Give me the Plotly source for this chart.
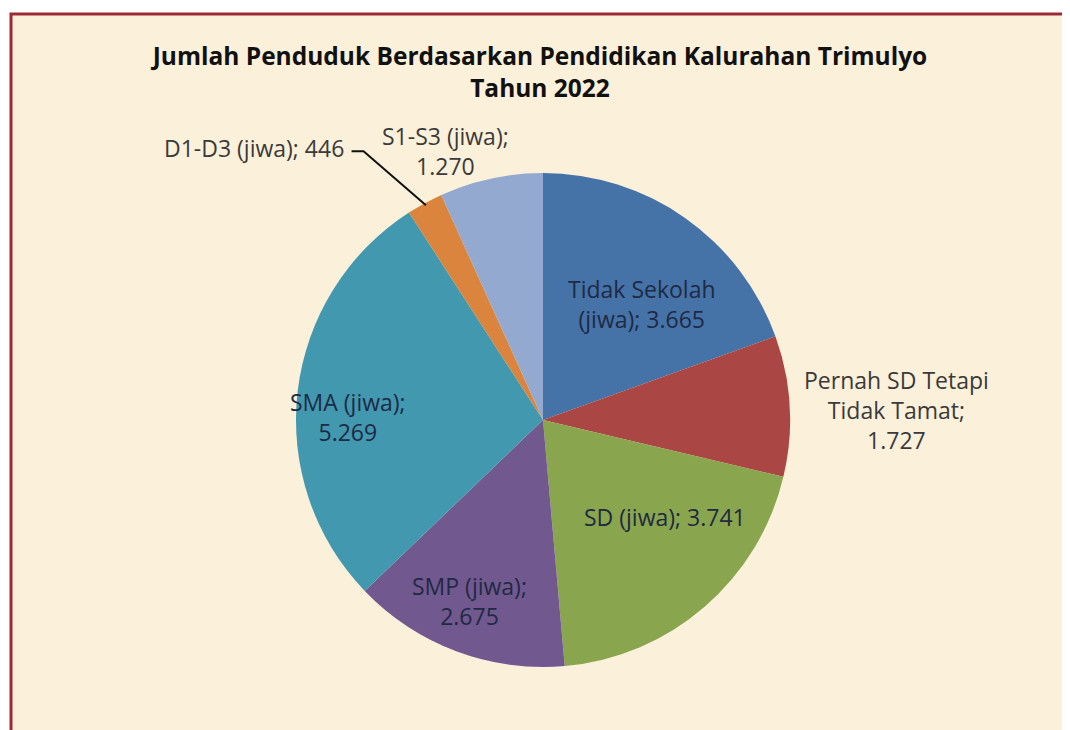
import math
import plotly.graph_objects as go

# ---- data ----
categories = ["Tidak Sekolah (jiwa)", "Pernah SD Tetapi Tidak Tamat", "SD (jiwa)",
              "SMP (jiwa)", "SMA (jiwa)", "D1-D3 (jiwa)", "S1-S3 (jiwa)"]
values = [3665, 1727, 3741, 2675, 5269, 446, 1270]
label_texts = ["Tidak Sekolah<br>(jiwa); 3.665", "Pernah SD Tetapi<br>Tidak Tamat;<br>1.727",
               "SD (jiwa); 3.741", "SMP (jiwa);<br>2.675", "SMA (jiwa);<br>5.269",
               "D1-D3 (jiwa); 446", "S1-S3 (jiwa);<br>1.270"]
colors = ["#4572A7", "#AA4643", "#89A54E", "#71588F", "#4198AF", "#DB843D", "#93A9CF"]
title = "Jumlah Penduduk Berdasarkan Pendidikan Kalurahan Trimulyo<br>Tahun 2022"

# ---- layout / style ----
OFF = 8                      # page body margin
W, H = 1070 - OFF, 730 - OFF
CX, CY, R = 543 - OFF, 420 - OFF, 247      # pie centre / radius in pixels (figure coords)
# label placement (angle clockwise from 12 o'clock, radius fraction), anchor
label_pos = [(40.5, 0.62, "center"), (88.4, 1.43, "center"), (128.5, 0.63, "center"),
             (202, 0.79, "center"), (271, 0.79, "center"), (324, 1.36, "right"),
             (340, 1.16, "center")]
inside = [True, False, True, True, True, False, False]

fig = go.Figure()
fig.add_trace(go.Pie(
    labels=categories, values=values, sort=False, direction="clockwise", rotation=0,
    marker=dict(colors=colors, line=dict(width=0)), textinfo="none",
    showlegend=False,
    domain=dict(x=[(CX - R) / W, (CX + R) / W], y=[(H - CY - R) / H, (H - CY + R) / H]),
))

def px_to_paper(x, y):
    return x / W, (H - y) / H

annotations = []
for txt, (ang, rf, anchor), ins in zip(label_texts, label_pos, inside):
    a = math.radians(ang)
    x = CX + rf * R * math.sin(a)
    y = CY - rf * R * math.cos(a)
    px, py = px_to_paper(x, y)
    annotations.append(dict(
        x=px, y=py, xref="paper", yref="paper", text=txt, showarrow=False,
        xanchor=anchor, yanchor="middle", align="center",
        font=dict(family="Open Sans", size=23, color="#1F2A44" if ins else "#3A3A3A"),
    ))

# leader line for D1-D3 from label end to slice mid-angle edge
total = sum(values)
start = sum(values[:5]) / total * 360
mid = math.radians(start + values[5] / total * 180)
ex, ey = CX + R * 0.99 * math.sin(mid), CY - R * 0.99 * math.cos(mid)
la = math.radians(label_pos[5][0])
lx = CX + label_pos[5][1] * R * math.sin(la) + 6
ly = CY - label_pos[5][1] * R * math.cos(la) + 3
p0 = px_to_paper(lx, ly)
p1 = px_to_paper(lx + 12, ly)
p2 = px_to_paper(ex, ey)
shapes = [
    # chart area background with dark red border
    dict(type="rect", xref="paper", yref="paper", x0=(11 - OFF) / W, x1=(1065 - OFF) / W,
         y0=-0.02, y1=(H - (14 - OFF)) / H,
         fillcolor="#FBF0DA", line=dict(color="#9B2A35", width=3), layer="below"),
    dict(type="path", xref="paper", yref="paper",
         path=f"M {p0[0]},{p0[1]} L {p1[0]},{p1[1]} L {p2[0]},{p2[1]}",
         line=dict(color="#111111", width=2)),
]

fig.update_layout(
    width=W, height=H, margin=dict(l=0, r=0, t=0, b=0),
    paper_bgcolor="white", plot_bgcolor="white",
    title=dict(text=title, x=(540 - OFF) / W, xanchor="center", y=(H - (65 - OFF)) / H,
               yanchor="middle",
               font=dict(family="Open Sans", size=24.5, color="#111111", weight="bold")),
    annotations=annotations, shapes=shapes,
)
fig.write_html("out.html")
